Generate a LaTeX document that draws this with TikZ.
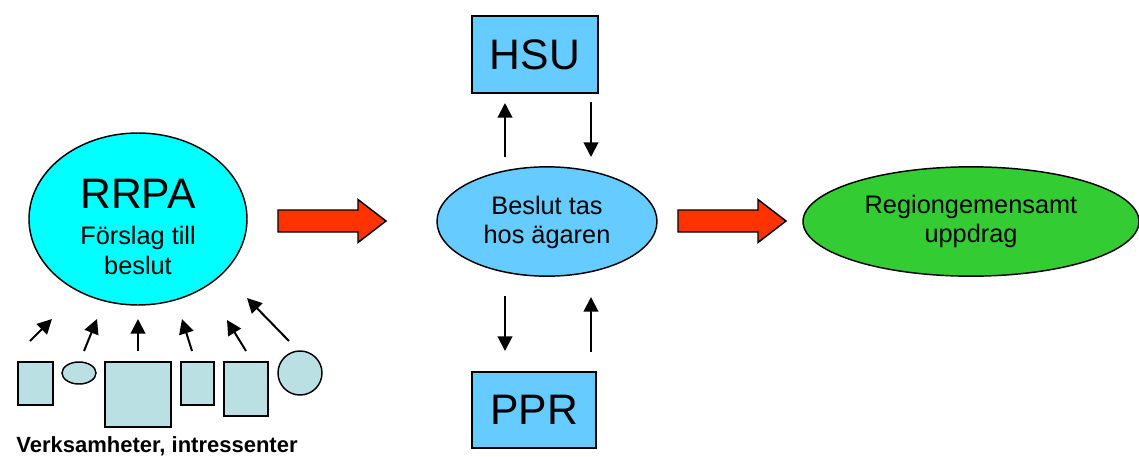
\documentclass[tikz,border=0pt]{standalone}
\usepackage{fontspec}
\setmainfont{Liberation Sans}
\usetikzlibrary{shapes.geometric,arrows.meta}
\definecolor{rrpacyan}{RGB}{0,255,255}
\definecolor{ownerblue}{RGB}{102,204,255}
\definecolor{taskgreen}{RGB}{51,204,51}
\definecolor{flowred}{RGB}{255,51,0}
\definecolor{partyfill}{RGB}{187,224,227}

\begin{document}
\begin{tikzpicture}[x=0.75pt,y=-0.75pt,
  outline/.style={draw=black, line width=1.1pt},
  oval/.style={outline, ellipse, inner sep=0pt},
  boxnode/.style={outline, fill=ownerblue, inner sep=0pt},
  party/.style={outline, fill=partyfill, inner sep=0pt},
  flow/.style={line width=1.5pt, -{Triangle[length=11pt,width=11pt]}},
  big/.style={font=\fontsize{32}{38}\selectfont},
  mid/.style={font=\fontsize{19}{23}\selectfont},
  txt/.style={anchor=base, inner sep=0pt},
  blockarrow/.pic={
    \draw[fill=flowred, line width=1.1pt]
      (0,-11) -- (80,-11) -- (80,-21.5) -- (108,0) -- (80,21.5) -- (80,11) -- (0,11) -- cycle;
  }
]
\useasboundingbox (0,0) rectangle (1139,457);

% proposal body
\node[oval, fill=rrpacyan, minimum width=163.5pt, minimum height=129pt] (rrpa) at (138,219) {};
\node[txt, big] (rrpaname) at (138,208) {RRPA};
\node[txt, mid] (rrpa1) at (138,244) {Förslag till};
\node[txt, mid] (rrpa2) at (138,274) {beslut};

% decision by the owners
\node[oval, fill=ownerblue, minimum width=165pt, minimum height=82pt] (owner) at (547,221.5) {};
\node[txt, mid] (owner1) at (547,214) {Beslut tas};
\node[txt, mid] (owner2) at (547,243) {hos ägaren};

% joint regional assignment
\node[oval, fill=taskgreen, minimum width=252pt, minimum height=82pt] (task) at (971,221.5) {};
\node[txt, mid] (task1) at (971,213) {Regiongemensamt};
\node[txt, mid] (task2) at (971,242) {uppdrag};

% HSU and PPR
\node[boxnode, minimum width=94.5pt, minimum height=57.75pt, big] (hsu) at (535,54.5) {HSU};
\node[boxnode, minimum width=93pt, minimum height=57pt, big] (ppr) at (534,410) {PPR};

% main flow
\pic at (278,221) {blockarrow};
\pic at (678,221) {blockarrow};

% exchange with HSU and PPR
\coordinate (hu0) at (505,157); \coordinate (hu1) at (505,103);
\coordinate (hd0) at (591,102); \coordinate (hd1) at (591,157);
\coordinate (pd0) at (505,296); \coordinate (pd1) at (505,351);
\coordinate (pu0) at (591,352); \coordinate (pu1) at (591,297);
\draw[flow] (hu0) -- (hu1);
\draw[flow] (hd0) -- (hd1);
\draw[flow] (pd0) -- (pd1);
\draw[flow] (pu0) -- (pu1);

% stakeholders
\node[party, rectangle, minimum width=26.25pt, minimum height=32.25pt] (p1) at (35.5,383.5) {};
\node[party, ellipse, minimum width=25.5pt, minimum height=16.5pt] (p2) at (79,373) {};
\node[party, rectangle, minimum width=49.5pt, minimum height=48.75pt] (p3) at (138,394.5) {};
\node[party, rectangle, minimum width=24.75pt, minimum height=32.25pt] (p4) at (197.5,383.5) {};
\node[party, rectangle, minimum width=33pt, minimum height=40.5pt] (p5) at (246,389) {};
\node[party, circle, minimum size=33pt] (p6) at (300,373) {};

\coordinate (a1s) at (30,341);  \coordinate (a1e) at (52,319);
\coordinate (a2s) at (84,351);  \coordinate (a2e) at (97,319);
\coordinate (a3s) at (138,351); \coordinate (a3e) at (138,319);
\coordinate (a4s) at (192,351); \coordinate (a4e) at (182,319);
\coordinate (a5s) at (246,351); \coordinate (a5e) at (227,320);
\coordinate (a6s) at (289,341); \coordinate (a6e) at (247,298);
\draw[flow] (a1s) -- (a1e);
\draw[flow] (a2s) -- (a2e);
\draw[flow] (a3s) -- (a3e);
\draw[flow] (a4s) -- (a4e);
\draw[flow] (a5s) -- (a5e);
\draw[flow] (a6s) -- (a6e);

\node[txt, font=\fontsize{16.5}{20}\selectfont\bfseries] (parties) at (157,452) {Verksamheter, intressenter};
\end{tikzpicture}
\end{document}
